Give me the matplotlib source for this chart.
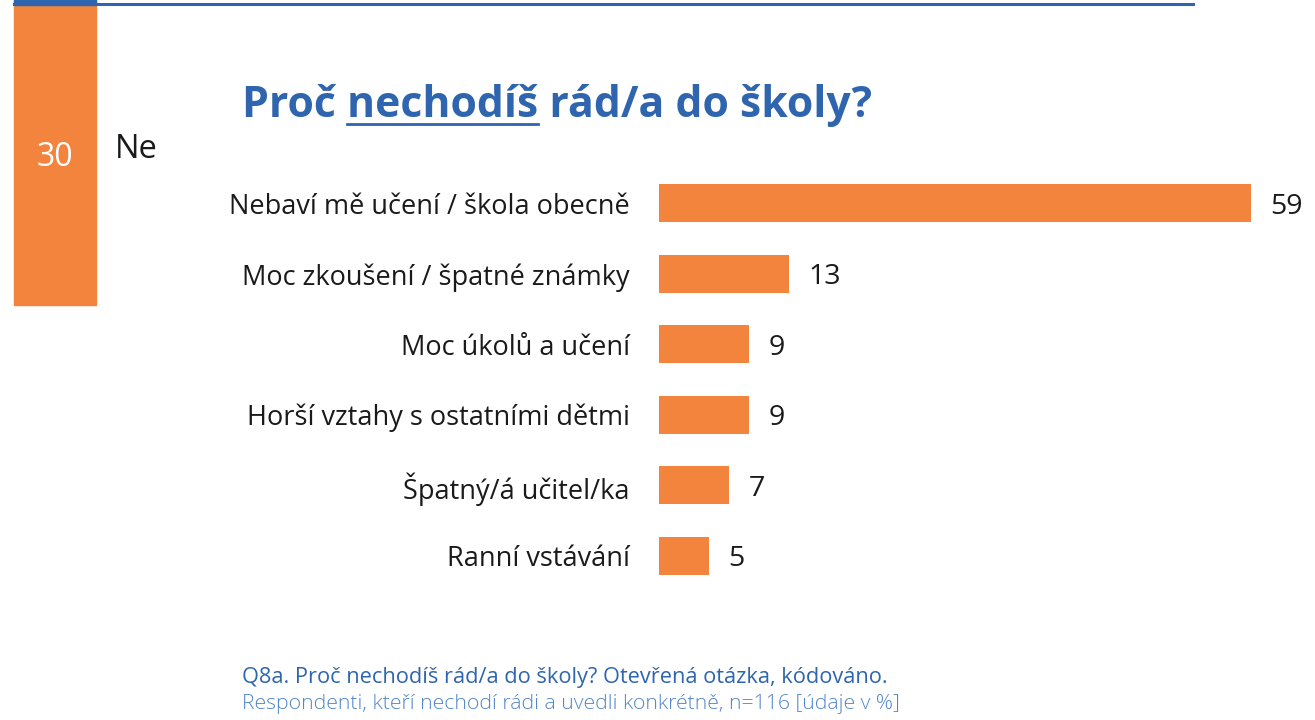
import matplotlib.pyplot as plt
from matplotlib.patches import Rectangle
from matplotlib.lines import Line2D

# data
categories = ['Nebaví mě učení / škola obecně', 'Moc zkoušení / špatné známky', 'Moc úkolů a učení',
              'Horší vztahy s ostatními dětmi', 'Špatný/á učitel/ka', 'Ranní vstávání']
values = [59, 13, 9, 9, 7, 5]
group_label = 'Ne'
group_share = 30

ORANGE = '#F3843E'
BLUE = '#2E65AE'
LIGHT_BLUE = '#5286C8'
TXT = '#1a1a1a'

W, H = 1315, 720
plt.rcParams['font.family'] = ['Open Sans', 'DejaVu Sans']

fig = plt.figure(figsize=(W / 100, H / 100), dpi=100)

def fx(px): return px / W
def fy(py): return 1 - py / H

# side block and top rule
fig.patches.append(Rectangle((fx(14), fy(305)), fx(96) - fx(14), fy(0) - fy(305),
                             transform=fig.transFigure, color=ORANGE, zorder=0))
fig.patches.append(Rectangle((fx(14), fy(5)), fx(96) - fx(14), fy(0) - fy(5),
                             transform=fig.transFigure, color=BLUE, zorder=1))
fig.lines.append(Line2D([fx(14), fx(1193)], [fy(4), fy(4)], transform=fig.transFigure,
                        color=BLUE, lw=2.2))
fig.text(fx(55), fy(157), str(group_share), color='white', fontsize=23, ha='center', va='center')
fig.text(fx(115), fy(150), group_label, color=TXT, fontsize=23.5, ha='left', va='center')

# title with underlined word
t_parts = ['Proč ', 'nechodíš', ' rád/a do školy?']
title_kw = dict(fontsize=30.8, fontweight='bold', color=BLUE, va='baseline', ha='left')
title = fig.text(fx(242), fy(117), ''.join(t_parts), **title_kw)
fig.canvas.draw()
r = fig.canvas.get_renderer()
tmp1 = fig.text(fx(242), fy(117), t_parts[0], **title_kw)
tmp2 = fig.text(fx(242), fy(117), t_parts[0] + t_parts[1], **title_kw)
x0 = tmp1.get_window_extent(r).x1
x1 = tmp2.get_window_extent(r).x1
tmp1.remove(); tmp2.remove()
fig.lines.append(Line2D([x0 / W, x1 / W], [fy(124), fy(124)], transform=fig.transFigure,
                        color=BLUE, lw=2))

# bars
px_per_unit = 10.03
ax_left, ax_right = 659, 1310
ax = fig.add_axes([fx(ax_left), fy(591), fx(ax_right) - fx(ax_left), fy(168) - fy(591)])
ypos = list(range(len(categories)))
ax.barh(ypos, values, height=0.54, color=ORANGE)
ax.set_xlim(0, (ax_right - ax_left) / px_per_unit)
ax.set_ylim(len(categories) - 0.5, -0.5)
ax.set_yticks(ypos)
ax.set_yticklabels(categories, fontsize=19.5, color=TXT)
ax.tick_params(axis='y', length=0, pad=21)
ax.set_xticks([])
for s in ax.spines.values():
    s.set_visible(False)
for y, v in zip(ypos, values):
    ax.text(v + 1.9, y, str(v), va='center_baseline', ha='left', fontsize=20.5, color=TXT)

# footer
fig.text(fx(242), fy(677), 'Q8a. Proč nechodíš rád/a do školy? Otevřená otázka, kódováno.',
         color=BLUE, fontsize=15.7, va='center', ha='left')
fig.text(fx(242), fy(704), 'Respondenti, kteří nechodí rádi a uvedli konkrétně, n=116 [údaje v %]',
         color=LIGHT_BLUE, fontsize=15.3, fontweight='light', va='center', ha='left')

fig.savefig('out.png', dpi=100)
